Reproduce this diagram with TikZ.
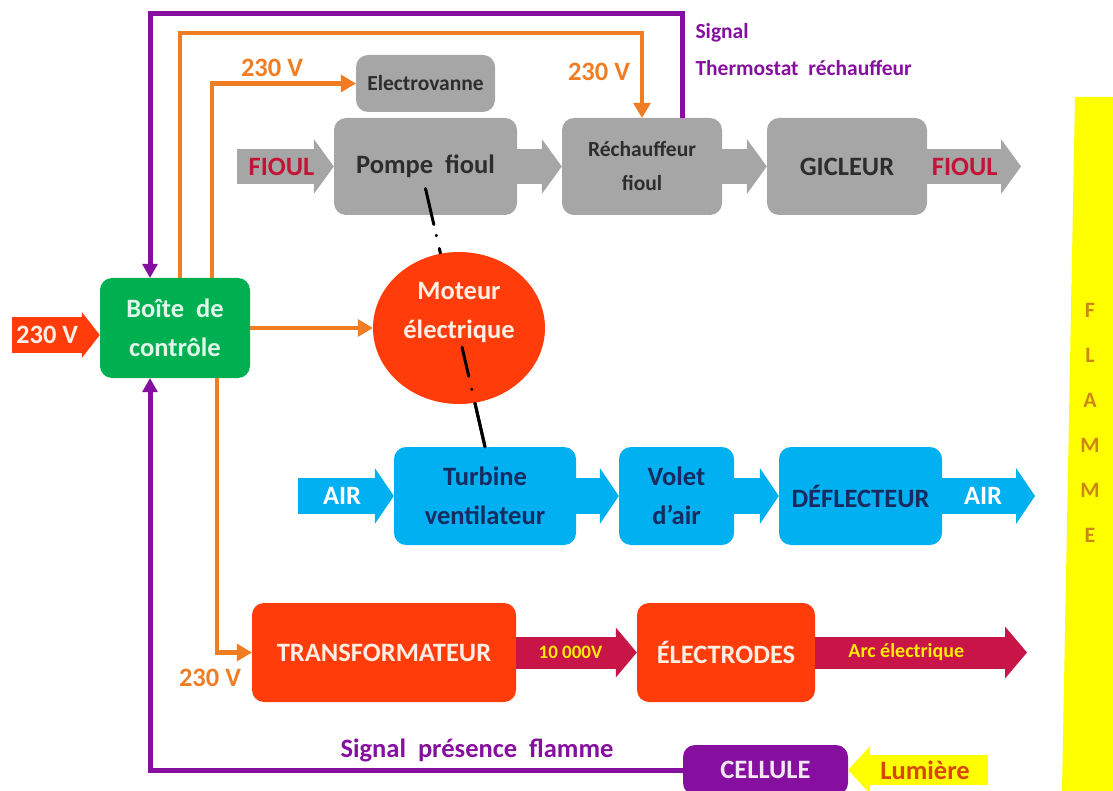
\documentclass[tikz,border=0pt]{standalone}
\usepackage{fontspec}
\setmainfont{Carlito}
\usetikzlibrary{arrows.meta, shapes.geometric, calc}
\definecolor{gris}{RGB}{166,166,166}
\definecolor{encre}{RGB}{45,45,45}
\definecolor{vert}{RGB}{0,176,80}
\definecolor{ciel}{RGB}{0,176,240}
\definecolor{marine}{RGB}{22,44,96}
\definecolor{vermillon}{RGB}{255,60,10}
\definecolor{cramoisi}{RGB}{200,20,70}
\definecolor{pourpre}{RGB}{135,15,160}
\definecolor{ambre}{RGB}{240,125,35}
\definecolor{jaune}{RGB}{255,255,0}
\definecolor{ocre}{RGB}{205,135,20}
\definecolor{braise}{RGB}{215,70,10}
\definecolor{carmin}{RGB}{195,20,55}
\definecolor{pale}{RGB}{255,238,228}
\newcommand\grandf{\fontsize{26.5}{39}\selectfont\bfseries}
\newcommand\petitf{\fontsize{21.5}{34}\selectfont\bfseries}

\tikzset{
  bloc/.style={rounded corners=12pt, inner sep=0pt, align=center,
               minimum height=97pt, font=\grandf},
  grisbox/.style={bloc, fill=gris, text=encre},
  bleubox/.style={bloc, fill=ciel, text=marine, minimum height=98pt},
  rougebox/.style={bloc, fill=vermillon, text=pale, minimum height=99pt},
  fleche/.style n args={3}{line width=#1, line cap=butt,
               -{Triangle[length=#3, width=#2, line width=0pt]}},
  secteur/.style={ambre, line width=4.5pt,
               -{Triangle[length=15pt, width=18pt, line width=0pt]}},
  signal/.style={pourpre, line width=5pt,
               -{Triangle[length=14pt, width=16pt, line width=0pt]}},
  axe/.style={black, line width=3pt, line cap=round},
}

\begin{document}
\begin{tikzpicture}[x=1pt, y=-1pt, font=\grandf]
    \useasboundingbox (0,0) rectangle (1113,791);
    \clip (0,0) rectangle (1113,791);

    % flamme
    \fill[jaune] (1075,97) -- (1113,97) -- (1113,791) -- (1062,791) -- cycle;
    \node[align=center, text=ocre, font=\fontsize{22}{45}\selectfont\bfseries]
      (flamme) at (1090,423) {F\\L\\A\\M\\M\\E};

    % circuit fioul
    \node[grisbox, minimum width=139pt, minimum height=57pt, font=\petitf]
      (vanne) at (425.5,83.5) {Electrovanne};
    \node[grisbox, minimum width=183pt] (pompe) at (425.5,166.5) {Pompe\ \ fioul};
    \node[grisbox, minimum width=160pt, font=\petitf]
      (rechauf) at (642,166.5) {Réchauffeur\\fioul};
    \node[grisbox, minimum width=160pt] (gicleur) at (847,166.5) {GICLEUR};

    % boite de controle
    \node[bloc, fill=vert, text=white!88!vert, minimum width=150pt,
          minimum height=100pt] (boite) at (175,328) {Boîte\ \ de\\contrôle};

    % circuit air
    \node[bleubox, minimum width=182pt] (turbine) at (485,496) {Turbine\\ventilateur};
    \node[bleubox, minimum width=115pt] (volet) at (676.5,496) {Volet\\d’air};
    \node[bleubox, minimum width=163pt] (deflect) at (860.5,496) {DÉFLECTEUR};

    % allumage
    \node[rougebox, minimum width=264pt] (transfo) at (384,652.5) {TRANSFORMATEUR};
    \node[rougebox, minimum width=178pt] (electrodes) at (726,652.5) {ÉLECTRODES};
    \node[bloc, fill=pourpre, text=white!90!pourpre, minimum width=165pt,
          minimum height=50pt] (cellule) at (765.5,770) {CELLULE};

    % axe moteur
    \coordinate (axeA) at ([yshift=-22pt]pompe.center);
    \draw[axe, dash pattern=on 37pt off 11pt on 0.5pt off 13pt on 300pt]
      (axeA) -- (turbine.north);

    % moteur
    \node[ellipse, fill=vermillon, inner sep=0pt, minimum width=172pt,
          minimum height=152pt] (moteur) at (459,328) {};
    \node[align=center, text=pale] (motlbl) at ([yshift=16pt]moteur.center)
      {Moteur\\électrique};
    \draw[axe, dash pattern=on 30pt off 13pt on 0.5pt off 14pt on 100pt]
      ($(axeA)!0.614!(turbine.north)$) -- (turbine.north);

    % alimentations 230 V
    \coordinate (otop) at (180,33);
    \draw[secteur] (otop |- boite.north) -- (otop) -| (rechauf.north);
    \draw[secteur] ([xshift=37pt]boite.north) |- (vanne.west);
    \draw[secteur] (boite.east) -- (moteur.west);
    \draw[secteur] ([xshift=42pt]boite.south) |- (transfo.west);
    \node[text=ambre] (v1) at (272,68) {230 V};
    \node[text=ambre] (v2) at (599,72) {230 V};
    \node[text=ambre] (v3) at (210,678) {230 V};

    % signaux
    \coordinate (ptop) at (150,14);
    \draw[signal] ([xshift=40pt]rechauf.north) |- (ptop) -- (ptop |- boite.north);
    \draw[signal] (cellule.west) -| ([xshift=-25pt]boite.south);
    \node[anchor=west, text=pourpre, font=\petitf] (sig1) at (692,33) {Signal};
    \node[anchor=west, text=pourpre, font=\petitf] (sig2) at (692,68)
      {Thermostat\ \ réchauffeur};
    \node[text=pourpre] (sig3) at (477,750) {Signal\ \ présence\ \ flamme};

    % fleches fioul
    \coordinate (fin) at (237,166.5);
    \coordinate (fout) at (1021,166.5);
    \draw[gris, fleche={35pt}{55pt}{20pt}] (fin)
      -- node[pos=.46, text=carmin] {FIOUL} (pompe.west);
    \draw[gris, fleche={35pt}{55pt}{20pt}] (pompe.east) -- (rechauf.west);
    \draw[gris, fleche={35pt}{55pt}{20pt}] (rechauf.east) -- (gicleur.west);
    \draw[gris, fleche={35pt}{55pt}{20pt}] (gicleur.east)
      -- node[pos=.40, text=carmin] {FIOUL} (fout);

    % fleches air
    \coordinate (ain) at (298,496);
    \coordinate (aout) at (1035,496);
    \draw[ciel, fleche={36pt}{56pt}{19pt}] (ain)
      -- node[pos=.46, text=white] {AIR} (turbine.west);
    \draw[ciel, fleche={36pt}{56pt}{19pt}] (turbine.east) -- (volet.west);
    \draw[ciel, fleche={36pt}{56pt}{19pt}] (volet.east) -- (deflect.west);
    \draw[ciel, fleche={36pt}{56pt}{19pt}] (deflect.east)
      -- node[pos=.44, text=white] {AIR} (aout);

    % haute tension
    \coordinate (arc) at (1027,652.5);
    \draw[cramoisi, fleche={32pt}{50pt}{21pt}] (transfo.east)
      -- node[pos=.45, text=jaune!85!orange, font=\fontsize{19}{22}\selectfont\bfseries]
      {10 000V} (electrodes.west);
    \draw[cramoisi, fleche={32pt}{52pt}{22pt}] (electrodes.east)
      -- node[pos=.43, text=jaune!85!orange, font=\fontsize{20}{22}\selectfont\bfseries]
      {Arc électrique} (arc);

    % entree secteur et lumiere
    \coordinate (in230) at (12,335);
    \draw[vermillon, fleche={36pt}{46pt}{18pt}] (in230)
      -- node[pos=.40, text=pale] {230 V} (in230 -| boite.west);
    \coordinate (lum) at (988,770);
    \draw[jaune, fleche={30pt}{48pt}{22pt}] (lum)
      -- node[pos=.45, text=braise] {Lumière} (cellule.east);
  \end{tikzpicture}
\end{document}
